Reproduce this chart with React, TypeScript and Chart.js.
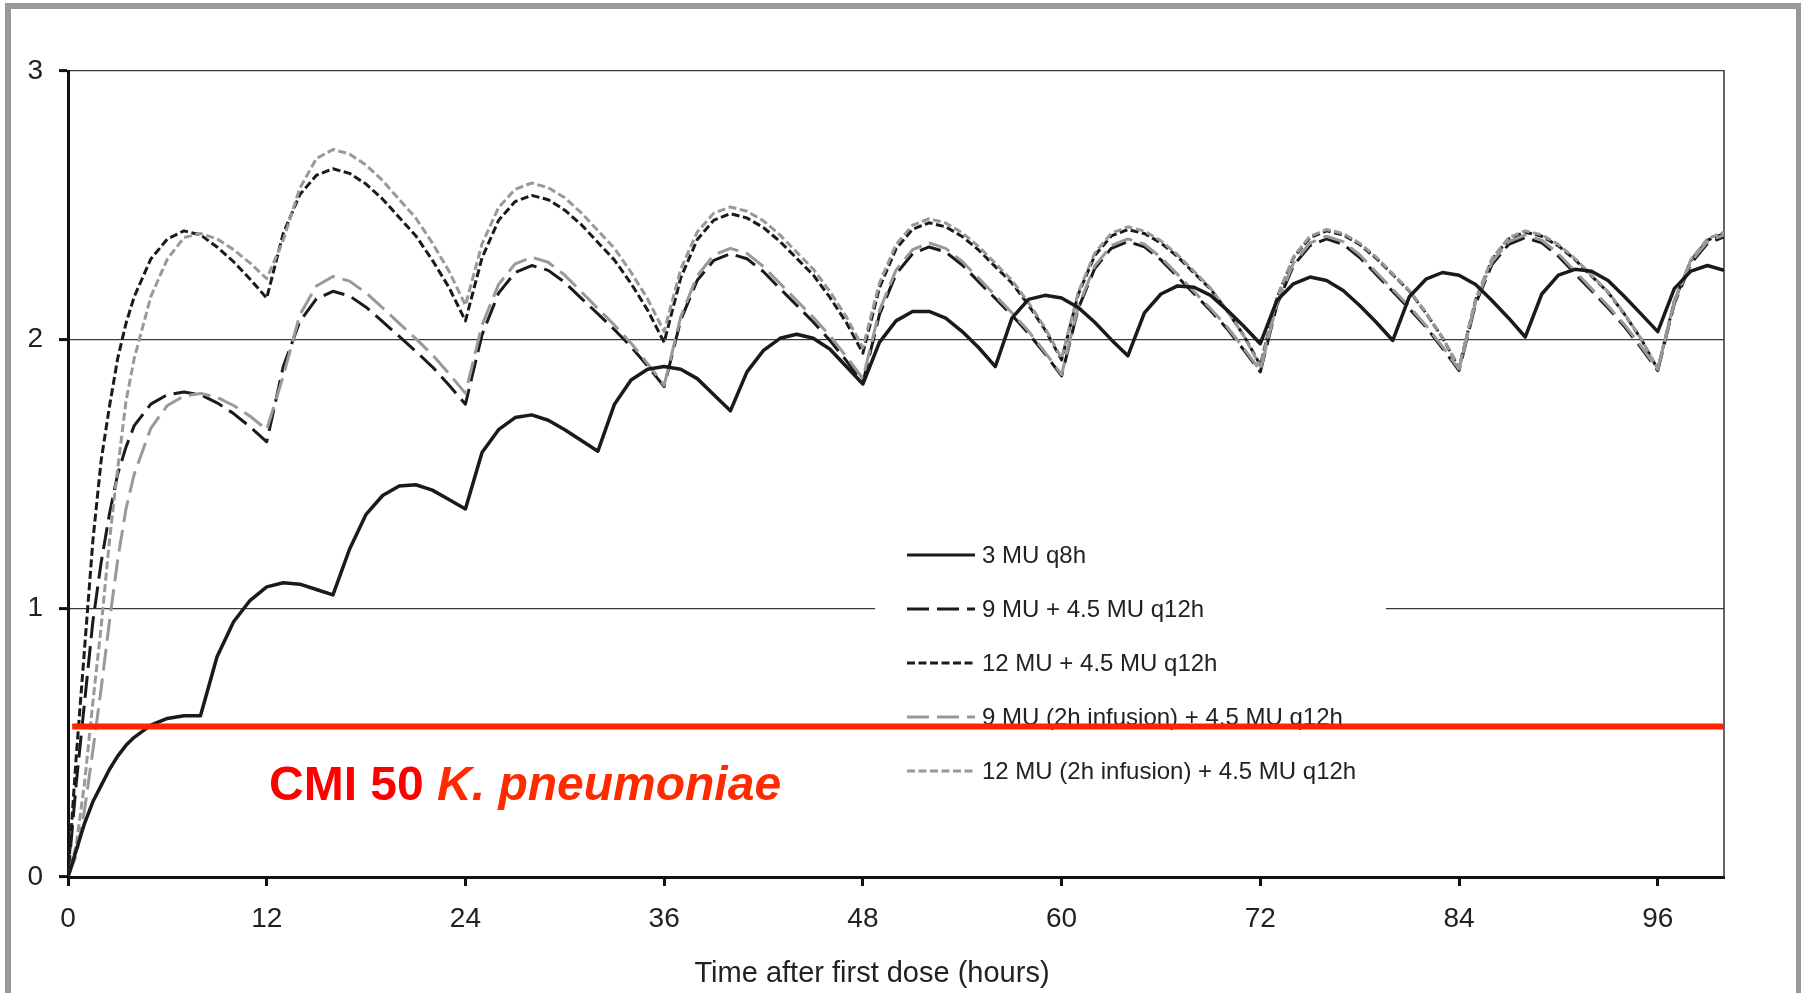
import { useEffect, useRef } from "react";
import { Chart, registerables } from "chart.js";

Chart.register(...registerables);

// ---- data (hours after first dose) ----
const TIME = [
  0, 0.5, 1, 1.5, 2, 2.5, 3, 3.5, 4, 5, 6, 7, 8, 9, 10, 11, 12, 13, 14, 15, 16, 17, 18, 19, 20,
  21, 22, 23, 24, 25, 26, 27, 28, 29, 30, 31, 32, 33, 34, 35, 36, 37, 38, 39, 40, 41, 42, 43, 44,
  45, 46, 47, 48, 49, 50, 51, 52, 53, 54, 55, 56, 57, 58, 59, 60, 61, 62, 63, 64, 65, 66, 67, 68,
  69, 70, 71, 72, 73, 74, 75, 76, 77, 78, 79, 80, 81, 82, 83, 84, 85, 86, 87, 88, 89, 90, 91, 92,
  93, 94, 95, 96, 97, 98, 99, 100,
];

const MU3_Q8H = [
  0, 0.1, 0.2, 0.28, 0.34, 0.4, 0.45, 0.49, 0.52,
  0.565, 0.59, 0.6, 0.6, 0.82, 0.95, 1.03, 1.08, 1.095, 1.09, 1.07, 1.05,
  1.22, 1.35, 1.42, 1.455, 1.46, 1.44, 1.405, 1.37,
  1.58, 1.665, 1.71, 1.72, 1.7, 1.665, 1.625, 1.585,
  1.76, 1.85, 1.89, 1.9, 1.89, 1.855, 1.795, 1.735,
  1.88, 1.96, 2.005, 2.02, 2.005, 1.965, 1.9, 1.835,
  1.99, 2.07, 2.105, 2.105, 2.08, 2.03, 1.97, 1.9,
  2.08, 2.15, 2.165, 2.155, 2.12, 2.065, 2.0, 1.94,
  2.1, 2.17, 2.2, 2.195, 2.165, 2.11, 2.05, 1.985,
  2.146, 2.208, 2.233, 2.22, 2.183, 2.127, 2.065, 1.997,
  2.16, 2.225, 2.25, 2.24, 2.205, 2.145, 2.08, 2.01,
  2.17, 2.24, 2.262, 2.255, 2.22, 2.16, 2.095, 2.03,
  2.19, 2.255, 2.276, 2.258,
];

const MU9_Q12H = [
  0, 0.35, 0.65, 0.95, 1.17, 1.35, 1.5, 1.6, 1.68,
  1.76, 1.795, 1.805, 1.795, 1.765, 1.725, 1.675, 1.62,
  1.9, 2.068, 2.152, 2.18, 2.163, 2.121, 2.067, 2.012, 1.957, 1.899, 1.831, 1.76,
  2.018, 2.173, 2.25, 2.276, 2.258, 2.213, 2.154, 2.096, 2.037, 1.974, 1.902, 1.825,
  2.073, 2.221, 2.295, 2.32, 2.301, 2.253, 2.19, 2.128, 2.066, 1.998, 1.922, 1.84,
  2.093, 2.244, 2.32, 2.345, 2.326, 2.278, 2.215, 2.153, 2.091, 2.023, 1.947, 1.865,
  2.115, 2.265, 2.34, 2.365, 2.346, 2.297, 2.234, 2.171, 2.108, 2.04, 1.962, 1.88,
  2.128, 2.276, 2.35, 2.375, 2.355, 2.306, 2.243, 2.179, 2.115, 2.047, 1.968, 1.885,
  2.133, 2.281, 2.355, 2.38, 2.36, 2.311, 2.246, 2.182, 2.118, 2.048, 1.969, 1.885,
  2.134, 2.283, 2.358, 2.383,
];

const MU12_Q12H = [
  0, 0.45, 0.85, 1.25, 1.55, 1.75, 1.93, 2.06, 2.16,
  2.3, 2.375, 2.405, 2.39, 2.345, 2.29, 2.225, 2.155,
  2.396, 2.54, 2.612, 2.636, 2.619, 2.579, 2.523, 2.455, 2.387, 2.296, 2.195, 2.07,
  2.304, 2.444, 2.514, 2.537, 2.521, 2.482, 2.428, 2.362, 2.296, 2.209, 2.11, 1.99,
  2.23, 2.373, 2.445, 2.469, 2.453, 2.417, 2.365, 2.303, 2.241, 2.158, 2.064, 1.95,
  2.193, 2.338, 2.411, 2.435, 2.42, 2.384, 2.333, 2.272, 2.211, 2.129, 2.037, 1.925,
  2.168, 2.313, 2.386, 2.41, 2.395, 2.36, 2.309, 2.248, 2.188, 2.107, 2.016, 1.905,
  2.155, 2.305, 2.38, 2.405, 2.39, 2.354, 2.303, 2.242, 2.181, 2.099, 2.007, 1.895,
  2.148, 2.299, 2.375, 2.4, 2.385, 2.349, 2.298, 2.237, 2.176, 2.094, 2.002, 1.89,
  2.143, 2.294, 2.37, 2.395,
];

const MU9_INF_Q12H = [
  0, 0.08, 0.25, 0.47, 0.7, 0.95, 1.18, 1.37, 1.5,
  1.67, 1.755, 1.79, 1.8, 1.785, 1.755, 1.715, 1.665,
  1.865, 2.093, 2.2, 2.235, 2.218, 2.174, 2.118, 2.061, 2.004, 1.944, 1.874, 1.8,
  2.054, 2.206, 2.282, 2.307, 2.288, 2.24, 2.178, 2.116, 2.054, 1.987, 1.911, 1.83,
  2.085, 2.238, 2.315, 2.34, 2.321, 2.272, 2.209, 2.146, 2.083, 2.015, 1.937, 1.855,
  2.108, 2.259, 2.335, 2.36, 2.34, 2.291, 2.228, 2.164, 2.1, 2.032, 1.953, 1.87,
  2.123, 2.274, 2.35, 2.375, 2.355, 2.306, 2.243, 2.179, 2.115, 2.047, 1.968, 1.885,
  2.135, 2.285, 2.36, 2.385, 2.365, 2.316, 2.251, 2.187, 2.123, 2.053, 1.974, 1.89,
  2.14, 2.29, 2.365, 2.39, 2.37, 2.32, 2.255, 2.19, 2.125, 2.055, 1.975, 1.89,
  2.14, 2.29, 2.365, 2.39,
];

const MU12_INF_Q12H = [
  0, 0.12, 0.35, 0.65, 0.93, 1.25, 1.52, 1.77, 1.93,
  2.16, 2.3, 2.38, 2.395, 2.375, 2.335, 2.285, 2.227,
  2.371, 2.564, 2.674, 2.708, 2.691, 2.65, 2.592, 2.522, 2.453, 2.36, 2.256, 2.128,
  2.356, 2.492, 2.56, 2.583, 2.566, 2.528, 2.472, 2.406, 2.34, 2.251, 2.152, 2.03,
  2.262, 2.401, 2.471, 2.494, 2.478, 2.442, 2.389, 2.326, 2.263, 2.18, 2.085, 1.97,
  2.21, 2.354, 2.426, 2.45, 2.434, 2.398, 2.346, 2.284, 2.221, 2.138, 2.044, 1.93,
  2.175, 2.322, 2.396, 2.42, 2.404, 2.368, 2.316, 2.254, 2.191, 2.108, 2.014, 1.9,
  2.155, 2.308, 2.385, 2.41, 2.395, 2.359, 2.307, 2.245, 2.183, 2.101, 2.008, 1.895,
  2.15, 2.303, 2.38, 2.405, 2.39, 2.354, 2.302, 2.24, 2.178, 2.096, 2.003, 1.89,
  2.145, 2.298, 2.375, 2.4,
];

const SERIES_LABELS = [
  "3 MU q8h",
  "9 MU + 4.5 MU q12h",
  "12 MU + 4.5 MU q12h",
  "9 MU (2h infusion) + 4.5 MU q12h",
  "12 MU (2h infusion) + 4.5 MU q12h",
];

const MIC_X = [0.25, 100];
const MIC_VALUE = 0.56;
const MIC_LABEL_MAIN = "CMI 50 ";
const MIC_LABEL_SPECIES = "K. pneumoniae";

const X_TICKS = [0, 12, 24, 36, 48, 60, 72, 84, 96];
const Y_TICKS = [0, 1, 2, 3];
const X_TITLE = "Time after first dose (hours)";

const FONT = '"Liberation Sans", Arial, Helvetica, sans-serif';
const BLACK = "#1a1a1a";
const GRAY = "#999999";
const LONG_DASH = [22, 8];
const SHORT_DASH = [8, 3.5];

export default function App() {
  const ref = useRef<HTMLCanvasElement>(null);

  useEffect(() => {
    const canvas = ref.current;
    if (!canvas) return;
    const pts = (ys: number[]) => TIME.map((t, i) => ({ x: t, y: ys[i] }));
    const line = (label: string, ys: number[], color: string, dash: number[], width: number, order: number) => ({
      label,
      data: pts(ys),
      borderColor: color,
      backgroundColor: "transparent",
      borderDash: dash,
      borderWidth: width,
      pointRadius: 0,
      tension: 0,
      fill: false,
      order,
      borderJoinStyle: "round" as const,
    });

    const bgPlugin = {
      id: "bg",
      beforeDraw(chart: any) {
        const { ctx, width, height } = chart;
        ctx.save();
        ctx.fillStyle = "#ffffff";
        ctx.fillRect(0, 0, width, height);
        ctx.restore();
      },
      afterDraw(chart: any) {
        const { ctx, width, height } = chart;
        ctx.save();
        ctx.fillStyle = "#999999";
        ctx.fillRect(5, 3, 6, height);
        ctx.fillRect(5, 3, width - 5, 6);
        ctx.fillRect(width - 5, 3, 5, height);
        ctx.restore();
      },
    };

    const legendPlugin = {
      id: "boxLegend",
      beforeDatasetsDraw(chart: any) {
        const { ctx, chartArea } = chart;
        ctx.save();
        // right frame line of plot
        ctx.strokeStyle = "#333333";
        ctx.lineWidth = 1.5;
        ctx.beginPath();
        ctx.moveTo(chartArea.right, chartArea.top - 1);
        ctx.lineTo(chartArea.right, chartArea.bottom);
        ctx.stroke();
        // axis title (centred where the original places it)
        ctx.fillStyle = "#222222";
        ctx.font = `29px ${FONT}`;
        ctx.textAlign = "center";
        ctx.textBaseline = "middle";
        ctx.fillText(X_TITLE, 872, 974);
        // legend box
        ctx.fillStyle = "#ffffff";
        ctx.fillRect(875, 522, 511, 275);
        const dsList = chart.data.datasets.slice(0, SERIES_LABELS.length);
        dsList.forEach((ds: any, i: number) => {
          const y = 555 + i * 54;
          ctx.strokeStyle = ds.borderColor;
          ctx.lineWidth = 3;
          ctx.setLineDash(ds.borderDash || []);
          ctx.beginPath();
          ctx.moveTo(907, y);
          ctx.lineTo(975, y);
          ctx.stroke();
          ctx.setLineDash([]);
          ctx.fillStyle = "#222222";
          ctx.font = `24px ${FONT}`;
          ctx.textBaseline = "middle";
          ctx.textAlign = "left";
          ctx.fillText(ds.label, 982, y + 1);
        });
        ctx.restore();
      },
      afterDatasetsDraw(chart: any) {
        const { ctx } = chart;
        ctx.save();
        ctx.textBaseline = "alphabetic";
        ctx.textAlign = "left";
        ctx.font = `bold 48px ${FONT}`;
        ctx.fillStyle = "#ff0000";
        ctx.fillText(MIC_LABEL_MAIN, 269, 800);
        const w = ctx.measureText(MIC_LABEL_MAIN).width;
        ctx.font = `italic bold 48px ${FONT}`;
        ctx.fillStyle = "#ff2a00";
        ctx.fillText(MIC_LABEL_SPECIES, 269 + w, 800);
        ctx.restore();
      },
    };

    const chart = new Chart(canvas, {
      type: "line",
      data: {
        datasets: [
          line(SERIES_LABELS[0], MU3_Q8H, BLACK, [], 3.5, 0),
          line(SERIES_LABELS[1], MU9_Q12H, BLACK, LONG_DASH, 3, 4),
          line(SERIES_LABELS[2], MU12_Q12H, BLACK, SHORT_DASH, 3, 3),
          line(SERIES_LABELS[3], MU9_INF_Q12H, GRAY, LONG_DASH, 3, 2),
          line(SERIES_LABELS[4], MU12_INF_Q12H, GRAY, SHORT_DASH, 3, 1),
          {
            label: "CMI 50",
            data: MIC_X.map((x) => ({ x, y: MIC_VALUE })),
            borderColor: "#ff2400",
            borderWidth: 6,
            pointRadius: 0,
            fill: false,
            order: -1,
          },
        ],
      },
      options: {
        responsive: false,
        animation: false,
        devicePixelRatio: 1,
        layout: { padding: { left: 0, top: 71, right: 77, bottom: 0 } },
        plugins: {
          legend: { display: false },
          tooltip: { enabled: false },
        },
        scales: {
          x: {
            type: "linear",
            min: 0,
            max: 100,
            afterBuildTicks: (s: any) => {
              s.ticks = X_TICKS.map((v) => ({ value: v }));
            },
            afterFit: (s: any) => {
              s.height = 116;
            },
            ticks: {
              font: { size: 28, family: FONT },
              color: "#222222",
              padding: 16,
              maxRotation: 0,
              autoSkip: false,
            },
            grid: {
              drawOnChartArea: false,
              drawTicks: true,
              tickLength: 9,
              tickWidth: 3,
              tickColor: "#111111",
            },
            border: { display: true, color: "#111111", width: 3 },
            title: { display: false, text: X_TITLE },
          },
          y: {
            type: "linear",
            min: 0,
            max: 3,
            afterBuildTicks: (s: any) => {
              s.ticks = Y_TICKS.map((v) => ({ value: v }));
            },
            afterFit: (s: any) => {
              s.width = 68;
            },
            ticks: {
              font: { size: 28, family: FONT },
              color: "#222222",
              padding: 16,
            },
            grid: {
              color: (c: any) => (c.tick && c.tick.value === 0 ? "rgba(0,0,0,0)" : "#3a3a3a"),
              lineWidth: 1.2,
              drawTicks: true,
              tickLength: 9,
              tickWidth: 3,
              tickColor: "#111111",
            },
            border: { display: true, color: "#111111", width: 3 },
          },
        },
      },
      plugins: [bgPlugin, legendPlugin],
    } as any);

    return () => chart.destroy();
  }, []);

  return (
    <div style={{ position: "fixed", left: 0, top: 0, width: 1801, height: 993, background: "#ffffff" }}>
      <canvas ref={ref} width={1801} height={993} style={{ display: "block" }} />
    </div>
  );
}
